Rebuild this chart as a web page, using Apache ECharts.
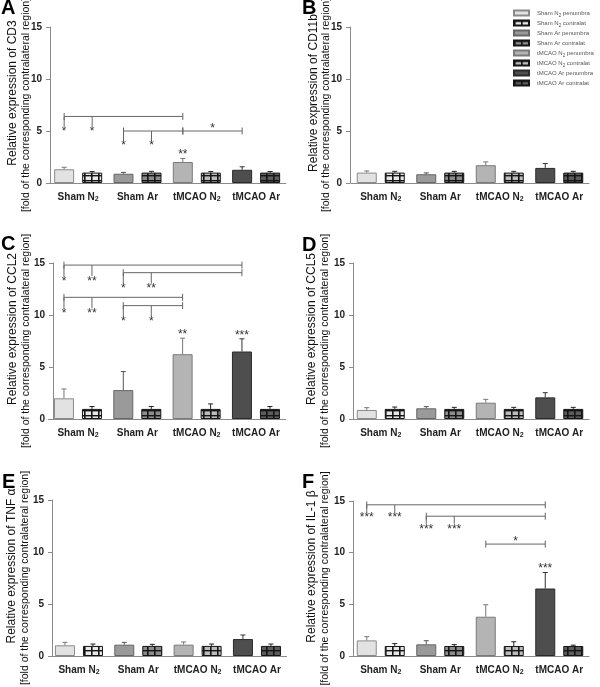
<!DOCTYPE html>
<html><head><meta charset="utf-8">
<script src="https://cdn.jsdelivr.net/npm/echarts@6/dist/echarts.min.js"></script>
<style>html,body{margin:0;padding:0;background:#fff}#c{width:600px;height:687px}</style>
</head><body><div id="c"></div>
<script>
// ---------------- data ----------------
const categories = ['Sham N2', 'Sham Ar', 'tMCAO N2', 'tMCAO Ar'];
const seriesNames = ['Sham N2 penumbra', 'Sham N2 contralat', 'Sham Ar penumbra', 'Sham Ar contralat',
  'tMCAO N2 penumbra', 'tMCAO N2 contralat', 'tMCAO Ar penumbra', 'tMCAO Ar contralat'];
const yTicks = [0, 5, 10, 15];
const panelLetters = ['A', 'B', 'C', 'D', 'E', 'F'];
const markers = ['CD3', 'CD11b', 'CCL2', 'CCL5', 'TNF α', 'IL-1 β'];
const yTitleLine2 = '[fold of the corresponding contralateral region]';

// A: CD3
const cd3Pen = [1.32, 0.89, 2.02, 1.27];
const cd3PenErr = [1.51, 1.02, 2.36, 1.56];
const cd3Con = [1.0, 1.0, 1.0, 1.0];
const cd3ConErr = [1.10, 1.12, 1.10, 1.10];
// B: CD11b
const cd11bPen = [1.0, 0.84, 1.71, 1.45];
const cd11bPenErr = [1.16, 0.97, 2.03, 1.87];
const cd11bCon = [1.0, 1.0, 1.0, 1.0];
const cd11bConErr = [1.12, 1.12, 1.12, 1.12];
// C: CCL2
const ccl2Pen = [1.99, 2.78, 6.23, 6.49];
const ccl2PenErr = [2.89, 4.56, 7.77, 7.71];
const ccl2Con = [0.97, 0.97, 0.97, 0.97];
const ccl2ConErr = [1.2, 1.2, 1.45, 1.2];
// D: CCL5
const ccl5Pen = [0.87, 1.03, 1.57, 2.08];
const ccl5PenErr = [1.09, 1.19, 1.89, 2.53];
const ccl5Con = [0.97, 0.97, 0.97, 0.97];
const ccl5ConErr = [1.15, 1.12, 1.12, 1.12];
// E: TNF alpha
const tnfPen = [1.03, 1.09, 1.09, 1.63];
const tnfPenErr = [1.31, 1.31, 1.35, 2.02];
const tnfCon = [0.97, 0.97, 0.97, 0.97];
const tnfConErr = [1.15, 1.12, 1.15, 1.15];
// F: IL-1 beta
const il1Pen = [1.51, 1.13, 3.8, 6.53];
const il1PenErr = [1.87, 1.48, 4.96, 8.08];
const il1Con = [0.97, 0.97, 0.97, 0.97];
const il1ConErr = [1.2, 1.1, 1.38, 1.05];

// significance brackets: [lineValue, fromBar, toBar, [[dropBar, label],...], midLabel]
// bar index = categoryIndex*2 + (0 penumbra | 1 contralat)
const cd3Brackets = [
  [6.4, 0, 4, [[0, '*'], [1, '*']], ''],
  [5.0, 2, 4, [[2, '*'], [3, '*']], ''],
  [5.0, 4, 6, [], '*']
];
const ccl2Brackets = [
  [14.8, 0, 6, [[0, '*'], [1, '**']], ''],
  [14.07, 2, 6, [[2, '*'], [3, '**']], ''],
  [11.7, 0, 4, [[0, '*'], [1, '**']], ''],
  [10.9, 2, 4, [[2, '*'], [3, '*']], '']
];
const il1Brackets = [
  [14.63, 0, 6, [[0, '***'], [1, '***']], ''],
  [13.53, 2, 6, [[2, '***'], [3, '***']], ''],
  [10.83, 4, 6, [], '*']
];
// labels above bars: [barIndex, label]
const cd3Above = [[4, '**']];
const ccl2Above = [[4, '**'], [6, '***']];
const il1Above = [[6, '***']];

const panelData = [
  {pen: cd3Pen, penErr: cd3PenErr, con: cd3Con, conErr: cd3ConErr, brackets: cd3Brackets, above: cd3Above},
  {pen: cd11bPen, penErr: cd11bPenErr, con: cd11bCon, conErr: cd11bConErr, brackets: [], above: []},
  {pen: ccl2Pen, penErr: ccl2PenErr, con: ccl2Con, conErr: ccl2ConErr, brackets: ccl2Brackets, above: ccl2Above},
  {pen: ccl5Pen, penErr: ccl5PenErr, con: ccl5Con, conErr: ccl5ConErr, brackets: [], above: []},
  {pen: tnfPen, penErr: tnfPenErr, con: tnfCon, conErr: tnfConErr, brackets: [], above: []},
  {pen: il1Pen, penErr: il1PenErr, con: il1Con, conErr: il1ConErr, brackets: il1Brackets, above: il1Above}
];

// ---------------- layout / style ----------------
const FONT = '"Liberation Sans", Arial, sans-serif';
const BAR_W = 20, BAR_GAP_PX = 8, BAR_OFF = (BAR_W + BAR_GAP_PX) / 2;
const layout = [
  {left: 48.5, top: 27, width: 237.3, height: 156, yOff: -1.5, nameGap: 17.5, drop: 9.5, letter: [1, 8]},
  {left: 351, top: 27, width: 238, height: 156, yOff: 1, nameGap: 17, drop: 9, letter: [302, 8]},
  {left: 48.3, top: 263, width: 237.3, height: 156, yOff: -4.7, nameGap: 20.5, drop: 11, letter: [1, 244.5]},
  {left: 351, top: 263, width: 238, height: 156, yOff: -2, nameGap: 21.5, drop: 9, letter: [302, 245]},
  {left: 49.3, top: 500, width: 237.3, height: 156, yOff: -2.7, nameGap: 20.5, drop: 9, letter: [2, 482]},
  {left: 351, top: 501, width: 238, height: 155, yOff: -2, nameGap: 21.5, drop: 7.5, letter: [302, 482.5]}
];

function makePattern(cell) {
  const c = document.createElement('canvas');
  c.width = 7; c.height = 5;
  const g = c.getContext('2d');
  g.fillStyle = cell; g.fillRect(0, 0, 7, 5);
  g.fillStyle = '#151515';
  g.fillRect(0, 0, 1.6, 5);
  g.fillRect(0, 0, 7, 1.4);
  return {image: c, repeat: 'repeat'};
}
const barStyles = [
  {color: '#e2e2e2', borderColor: '#8a8a8a', borderWidth: 1},
  {color: makePattern('#e8e8e8'), borderColor: '#151515', borderWidth: 1},
  {color: '#9a9a9a', borderColor: '#666', borderWidth: 1},
  {color: makePattern('#8c8c8c'), borderColor: '#151515', borderWidth: 1},
  {color: '#b4b4b4', borderColor: '#7a7a7a', borderWidth: 1},
  {color: makePattern('#bcbcbc'), borderColor: '#151515', borderWidth: 1},
  {color: '#4e4e4e', borderColor: '#2a2a2a', borderWidth: 1},
  {color: makePattern('#5c5c5c'), borderColor: '#151515', borderWidth: 1}
];
const errColor = ['#777', '#222', '#555', '#222', '#777', '#222', '#333', '#222'];
const AXIS_COLOR = '#8a8a8a';
const STAR_COLOR = '#333';
const LINE_COLOR = '#666';
const TEXT_COLOR = '#111';

function barX(api, b) {
  return api.coord([Math.floor(b / 2), 0])[0] + (b % 2 === 0 ? -BAR_OFF : BAR_OFF);
}
function starText(x, y, t) {
  return {type: 'text', x: x, y: y, style: {text: t, fontSize: 12, fontFamily: FONT, fill: STAR_COLOR, align: 'center', verticalAlign: 'middle'}};
}

const grids = [], xAxes = [], yAxes = [], series = [], graphics = [];
layout.forEach((L, i) => {
  const P = panelData[i];
  grids.push({left: L.left, top: L.top, width: L.width, height: L.height, containLabel: false, outerBoundsMode: 'none'});
  xAxes.push({
    type: 'category', gridIndex: i, data: categories,
    axisLine: {show: true, lineStyle: {color: AXIS_COLOR, width: 1}},
    axisTick: {show: false},
    axisLabel: {
      interval: 0, margin: 8, fontFamily: FONT, fontWeight: 'bold', fontSize: 10, color: '#222', lineHeight: 12,
      formatter: v => v.replace('N2', 'N{s|2}'),
      rich: {s: {fontSize: 7, fontWeight: 'bold', fontFamily: FONT, color: '#222', lineHeight: 7, verticalAlign: 'bottom'}}
    },
    splitLine: {show: false}
  });
  yAxes.push({
    type: 'value', gridIndex: i, min: yTicks[0], max: yTicks[yTicks.length - 1], interval: yTicks[1] - yTicks[0],
    offset: L.yOff,
    axisLine: {show: true, lineStyle: {color: AXIS_COLOR, width: 1}},
    axisTick: {show: true, length: 4, lineStyle: {color: AXIS_COLOR}},
    axisLabel: {margin: 8, fontFamily: FONT, fontWeight: 'bold', fontSize: 10, color: '#222'},
    splitLine: {show: false},
    name: '{a|Relative expression of ' + markers[i] + '}\n{b|' + yTitleLine2 + '}',
    nameLocation: 'middle', nameRotate: 90, nameGap: L.nameGap, nameMoveOverlap: false,
    nameTextStyle: {
      fontFamily: FONT, color: TEXT_COLOR,
      rich: {
        a: {fontFamily: FONT, fontSize: 12, lineHeight: 13, color: TEXT_COLOR, padding: [0, 0, 0, 24]},
        b: {fontFamily: FONT, fontSize: 10.5, lineHeight: 13, color: TEXT_COLOR}
      }
    }
  });
  seriesNames.forEach((nm, k) => {
    const cat = Math.floor(k / 2);
    const vals = k % 2 === 0 ? P.pen : P.con;
    series.push({
      type: 'bar', name: nm, xAxisIndex: i, yAxisIndex: i,
      stack: 'p' + i + '_' + (k % 2), barWidth: BAR_W, barGap: (BAR_GAP_PX / BAR_W * 100) + '%',
      data: categories.map((c, ci) => ci === cat ? vals[ci] : '-'),
      itemStyle: barStyles[k], silent: true, animation: false
    });
  });
  // error bars
  const errData = [];
  categories.forEach((c, ci) => {
    errData.push([ci, 0, P.pen[ci], P.penErr[ci]]);
    errData.push([ci, 1, P.con[ci], P.conErr[ci]]);
  });
  series.push({
    type: 'custom', name: 'err' + i, xAxisIndex: i, yAxisIndex: i, clip: false, silent: true, animation: false, z: 5,
    encode: {x: 0, y: 2},
    data: errData,
    renderItem: (params, api) => {
      const ci = api.value(0), slot = api.value(1);
      const b = ci * 2 + slot;
      const x = barX(api, b);
      const y0 = api.coord([ci, api.value(2)])[1];
      const y1 = api.coord([ci, api.value(3)])[1];
      const st = {stroke: errColor[b], lineWidth: 1};
      return {type: 'group', children: [
        {type: 'line', shape: {x1: x, y1: y0, x2: x, y2: y1}, style: st},
        {type: 'line', shape: {x1: x - 2.5, y1: y1, x2: x + 2.5, y2: y1}, style: st}
      ]};
    }
  });
  // brackets
  if (P.brackets.length) {
    series.push({
      type: 'custom', name: 'br' + i, xAxisIndex: i, yAxisIndex: i, clip: false, silent: true, animation: false, z: 6,
      encode: {x: 0, y: 1},
      data: P.brackets.map((b, bi) => [bi, b[0]]),
      renderItem: (params, api) => {
        const B = P.brackets[api.value(0)];
        const yl = api.coord([0, B[0]])[1];
        const xs = barX(api, B[1]), xe = barX(api, B[2]);
        const st = {stroke: LINE_COLOR, lineWidth: 1};
        const ch = [
          {type: 'line', shape: {x1: xs, y1: yl, x2: xe, y2: yl}, style: st},
          {type: 'line', shape: {x1: xs, y1: yl - 3.5, x2: xs, y2: yl + 3.5}, style: st},
          {type: 'line', shape: {x1: xe, y1: yl - 3.5, x2: xe, y2: yl + 3.5}, style: st}
        ];
        B[3].forEach(d => {
          const x = barX(api, d[0]);
          ch.push({type: 'line', shape: {x1: x, y1: yl, x2: x, y2: yl + L.drop}, style: st});
          ch.push(starText(x, yl + L.drop + 5.5, d[1]));
        });
        if (B[4]) ch.push(starText((xs + xe) / 2, yl - 2, B[4]));
        return {type: 'group', children: ch};
      }
    });
  }
  if (P.above.length) {
    series.push({
      type: 'custom', name: 'ab' + i, xAxisIndex: i, yAxisIndex: i, clip: false, silent: true, animation: false, z: 6,
      encode: {x: 0, y: 1},
      data: P.above.map(a => {
        const ci = Math.floor(a[0] / 2);
        return [ci, a[0] % 2 === 0 ? P.penErr[ci] : P.conErr[ci], a[0]];
      }),
      renderItem: (params, api) => {
        const a = P.above[params.dataIndex];
        const x = barX(api, api.value(2));
        const y = api.coord([api.value(0), api.value(1)])[1];
        return starText(x, y - 3.5, a[1]);
      }
    });
  }
  graphics.push({type: 'text', x: L.letter[0], y: L.letter[1],
    style: {text: panelLetters[i], fontFamily: FONT, fontWeight: 'bold', fontSize: 20, fill: '#000', align: 'left', verticalAlign: 'middle'}});
});

const chart = echarts.init(document.getElementById('c'), null, {renderer: 'canvas'});
chart.setOption({
  animation: false,
  backgroundColor: '#fff',
  grid: grids, xAxis: xAxes, yAxis: yAxes, series: series, graphic: graphics,
  legend: {
    data: seriesNames, orient: 'vertical', left: 513, top: 8, padding: 0,
    itemWidth: 15, itemHeight: 5, itemGap: 0, icon: 'rect', selectedMode: false,
    textStyle: {fontFamily: FONT, fontSize: 6, color: '#555', lineHeight: 10, padding: [0, 0, 0, 3],
      rich: {s: {fontFamily: FONT, fontSize: 4.5, color: '#555', lineHeight: 6, verticalAlign: 'bottom'}}},
    formatter: n => n.replace('N2', 'N{s|2}')
  }
});
</script></body></html>
